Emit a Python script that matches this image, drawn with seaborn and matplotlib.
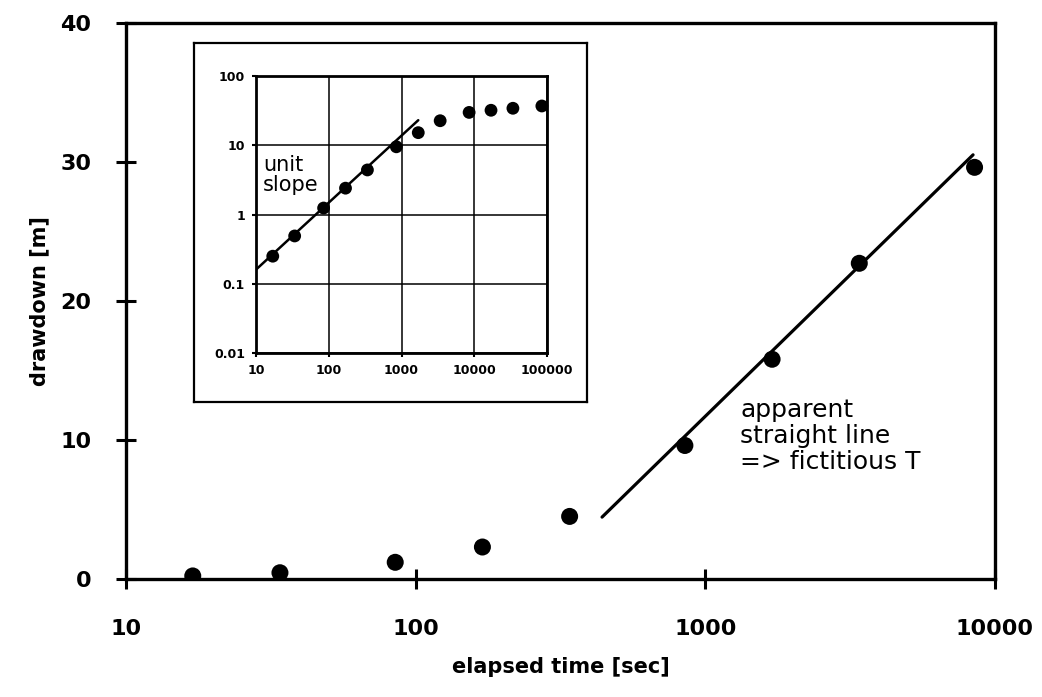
import numpy as np
import pandas as pd
import matplotlib
matplotlib.use("Agg")
import matplotlib.pyplot as plt
import seaborn as sns

# ölçülen veriler
zaman = [17, 34, 85, 170, 340, 850, 1700, 3400, 8500]
dusum = [0.22, 0.45, 1.2, 2.3, 4.5, 9.6, 15.8, 22.7, 29.6]

# iç grafik: daha uzun süreli ölçümler (log-log)
zaman_ic = [17, 34, 85, 170, 340, 850, 1700, 3400, 8500, 17000, 34000, 85000]
dusum_ic = [0.25, 0.49, 1.24, 2.4, 4.4, 9.5, 15.2, 22.6, 29.8, 32.0, 34.2, 36.9]

# çizgiler
duz_cizgi_t = [440, 8400]
duz_cizgi_s = [4.45, 30.5]
birim_egim_t = [10, 1700]
birim_egim_s = [0.16, 23]

x_ticks = [10, 100, 1000, 10000]
x_labels = ["10", "100", "1000", "10000"]
y_ticks = [0, 10, 20, 30, 40]
y_labels = ["0", "10", "20", "30", "40"]

xi_ticks = [10, 100, 1000, 10000, 100000]
xi_labels = ["10", "100", "1000", "10000", "100000"]
yi_ticks = [0.01, 0.1, 1, 10, 100]
yi_labels = ["0.01", "0.1", "1", "10", "100"]

df = pd.DataFrame({"t": zaman, "s": dusum})
df_ic = pd.DataFrame({"t": zaman_ic, "s": dusum_ic})
df_dz = pd.DataFrame({"t": duz_cizgi_t, "s": duz_cizgi_s})
df_be = pd.DataFrame({"t": birim_egim_t, "s": birim_egim_s})

sns.set_style("ticks")
plt.rcParams["font.family"] = ["DejaVu Sans"]
plt.rcParams["text.color"] = "black"
plt.rcParams["axes.labelcolor"] = "black"

fig = plt.figure(figsize=(10.42, 6.97), dpi=100)
W, H = 1042, 697

# ana grafik
ax = fig.add_axes([126 / W, (H - 579) / H, (995 - 126) / W, (579 - 22.7) / H])
sns.lineplot(data=df_dz, x="t", y="s", ax=ax, color="black", lw=2.3)
sns.scatterplot(data=df, x="t", y="s", ax=ax, color="black", s=150, edgecolor="none", zorder=5)
ax.set_xscale("log")
ax.set_xlim(10, 10000)
ax.set_ylim(0, 40)
ax.set_xticks(x_ticks)
ax.set_xticklabels(x_labels)
ax.set_yticks(y_ticks)
ax.set_yticklabels(y_labels)
ax.minorticks_off()
ax.tick_params(direction="inout", length=14, width=2.2, colors="black", labelsize=16,
               bottom=True, left=True)
ax.tick_params(axis="x", pad=22)
ax.tick_params(axis="y", pad=18)
for lab in ax.get_xticklabels() + ax.get_yticklabels():
    lab.set_fontweight("bold")
for sp in ax.spines.values():
    sp.set_linewidth(2.4)
    sp.set_color("black")
ax.set_xlabel("elapsed time [sec]", fontsize=15, fontweight="bold", labelpad=13)
ax.set_ylabel("drawdown [m]", fontsize=15, fontweight="bold", labelpad=8)
fig.text(740 / W, 1 - 398 / H, "apparent\nstraight line\n=> fictitious T", fontsize=18,
         ha="left", va="top", linespacing=1.1, color="black")

# iç grafik çerçevesi
cerceve = fig.add_axes([194 / W, (H - 402) / H, (587 - 194) / W, (402 - 43) / H])
cerceve.set_xticks([])
cerceve.set_yticks([])
cerceve.set_facecolor("white")
for sp in cerceve.spines.values():
    sp.set_linewidth(1.6)
    sp.set_color("black")

axi = fig.add_axes([256 / W, (H - 353) / H, (547 - 256) / W, (353 - 76) / H])
sns.lineplot(data=df_be, x="t", y="s", ax=axi, color="black", lw=1.8)
sns.scatterplot(data=df_ic, x="t", y="s", ax=axi, color="black", s=85, edgecolor="none", zorder=5, clip_on=False)
axi.set_xscale("log")
axi.set_yscale("log")
axi.set_xlim(10, 100000)
axi.set_ylim(0.01, 100)
axi.set_xticks(xi_ticks)
axi.set_xticklabels(xi_labels)
axi.set_yticks(yi_ticks)
axi.set_yticklabels(yi_labels)
axi.minorticks_off()
axi.grid(True, color="black", lw=1.1)
axi.tick_params(direction="out", length=3, width=1.5, colors="black", labelsize=9, pad=5,
                bottom=True, left=True)
for lab in axi.get_xticklabels() + axi.get_yticklabels():
    lab.set_fontweight("bold")
for sp in axi.spines.values():
    sp.set_linewidth(2)
    sp.set_color("black")
axi.set_xlabel("")
axi.set_ylabel("")
fig.text(263 / W, 1 - 155 / H, "unit\nslope", fontsize=15, ha="left", va="top",
         linespacing=1.0, color="black")

fig.savefig("out.png", dpi=100)
